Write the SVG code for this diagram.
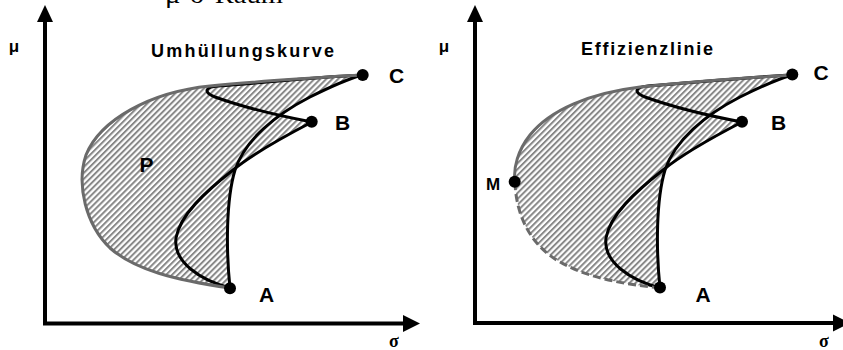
<svg xmlns="http://www.w3.org/2000/svg" width="843" height="350" viewBox="0 0 843 350">
<style>
.axis{stroke:#000;stroke-width:4;fill:none}
.env{stroke:#6a6a6a;stroke-width:3;fill:none;stroke-linejoin:round;stroke-linecap:round}
.dash{stroke-dasharray:8 4;stroke-linecap:butt}
.crv{stroke:#000;stroke-width:3;fill:none;stroke-linejoin:round;stroke-linecap:round}
.lbl{font-family:"Liberation Sans",Arial,sans-serif;font-weight:bold;fill:#000}
.sig{font-family:"Liberation Serif","Times New Roman",serif;font-weight:bold;fill:#000}
</style>
<defs>
<pattern id="hatch" patternUnits="userSpaceOnUse" width="4.2" height="10" patternTransform="rotate(45)">
<rect width="4.2" height="10" fill="#fff"/>
<rect width="2" height="10" fill="#888"/>
</pattern>
</defs>
<rect width="843" height="350" fill="#fff"/>

<text x="165" y="3" class="sig" style="font-weight:normal" font-size="26" textLength="118" lengthAdjust="spacingAndGlyphs">μ-σ-Raum</text>

<!-- Left panel -->
<g id="left-panel">
<g id="left-region-P">
<path fill="url(#hatch)" d="M362,75 C330,77 260,81 210,86 C150,92 100,120 86,155 C76,185 86,225 110,248 C135,270 175,280 230,288 C226,250 226,200 234,171 C255,152 285,136 312,122 C300,120 290,118 280,116 C300,100 330,85 362,75 Z"/>
<text x="146.5" y="172" class="lbl" font-size="21" text-anchor="middle">P</text>
</g>
<g id="left-connectors">
<path class="crv" d="M230,288 C226,250 226,200 235,170 C245,140 275,115 310,97 C330,87 345,80 362,75"/>
<path class="crv" d="M312,122 C285,136 255,152 233,170 C205,192 180,215 176,238 C173,262 200,280 230,288"/>
<path class="crv" d="M312,122 C280,116 240,106 215,97 C203,92 205,87 218,86 C270,82 320,77 362,75"/>
</g>
<g id="left-envelope">
<path class="env" d="M362,75 C330,77 260,81 210,86 C150,92 100,120 86,155 C76,185 86,225 110,248 C135,270 175,280 230,288"/>
</g>
<g id="left-axes">
<line class="axis" x1="45" y1="325" x2="45" y2="20"/>
<polygon points="45,5 37,22 53,22" fill="#000"/>
<line class="axis" x1="43" y1="323.5" x2="405" y2="323.5"/>
<polygon points="420,323.5 403,315 403,332" fill="#000"/>
<text x="14" y="52" class="lbl" font-size="17" text-anchor="middle">μ</text>
<text x="394" y="347" class="sig" font-size="18" text-anchor="middle">σ</text>
</g>
<text id="left-title" x="151" y="57" class="lbl" font-size="18" textLength="183" lengthAdjust="spacing">Umhüllungskurve</text>
<g id="left-A"><circle cx="230" cy="288.3" r="6"/><text x="266.5" y="302" class="lbl" font-size="21" text-anchor="middle">A</text></g>
<g id="left-B"><circle cx="311.7" cy="121.7" r="6"/><text x="342.5" y="130" class="lbl" font-size="21" text-anchor="middle">B</text></g>
<g id="left-C"><circle cx="362.7" cy="75" r="6"/><text x="396.5" y="83" class="lbl" font-size="21" text-anchor="middle">C</text></g>
</g>

<!-- Right panel -->
<g id="right-panel">
<g transform="translate(430,0)">
<g id="right-region">
<path fill="url(#hatch)" d="M362,75 C330,77 260,82 210,87 C160,93 120,110 100,135 C88,150 83,168 85,182 C86,215 100,245 130,262 C160,279 195,284 230,288 C226,250 226,200 234,171 C255,152 285,136 312,122 C300,120 290,118 280,116 C300,100 330,85 362,75 Z"/>
</g>
<g id="right-connectors">
<path class="crv" d="M230,288 C226,250 226,200 235,170 C245,140 275,115 310,97 C330,87 345,80 362,75"/>
<path class="crv" d="M312,122 C285,136 255,152 233,170 C205,192 180,215 176,238 C173,262 200,280 230,288"/>
<path class="crv" d="M312,122 C280,116 240,106 215,97 C203,92 205,87 218,86 C270,82 320,77 362,75"/>
</g>
<g id="right-envelope">
<path class="env" d="M362,75 C330,77 260,82 210,87 C160,93 120,110 100,135 C88,150 83,168 85,182"/>
<path class="env dash" d="M85,182 C86,215 100,245 130,262 C160,279 195,284 230,288"/>
</g>
<g id="right-axes">
<line class="axis" x1="45" y1="325" x2="45" y2="20"/>
<polygon points="45,5 37,22 53,22" fill="#000"/>
<line class="axis" x1="43" y1="323" x2="405" y2="323"/>
<polygon points="420,323 403,314.5 403,331.5" fill="#000"/>
</g>
<g id="right-A"><circle cx="230" cy="287.5" r="6"/></g>
<g id="right-B"><circle cx="312" cy="121.7" r="6"/></g>
<g id="right-C"><circle cx="362.3" cy="74.5" r="6"/></g>
<g id="right-M"><circle cx="84.7" cy="181.7" r="6"/></g>
</g>
<text x="444" y="52" class="lbl" font-size="17" text-anchor="middle">μ</text>
<text x="824" y="347" class="sig" font-size="18" text-anchor="middle">σ</text>
<text id="right-title" x="581" y="55" class="lbl" font-size="18" textLength="132" lengthAdjust="spacing">Effizienzlinie</text>
<text x="703" y="302" class="lbl" font-size="21" text-anchor="middle">A</text>
<text x="778.5" y="130" class="lbl" font-size="21" text-anchor="middle">B</text>
<text x="821" y="80" class="lbl" font-size="21" text-anchor="middle">C</text>
<text x="493" y="190" class="lbl" font-size="17" text-anchor="middle">M</text>
</g>
</svg>
